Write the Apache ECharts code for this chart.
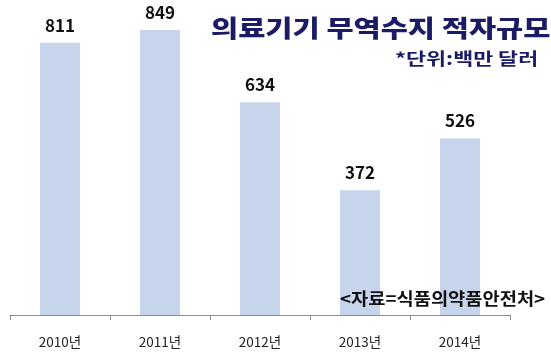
<!DOCTYPE html>
<html><head><meta charset="utf-8">
<script src="https://cdn.jsdelivr.net/npm/echarts@6/dist/echarts.min.js"></script>
<style>html,body{margin:0;padding:0;background:#fff}#c{width:551px;height:357px}</style>
</head><body><div id="c"></div>
<script>
const categories = ['2010년','2011년','2012년','2013년','2014년'];
const values = [811, 849, 634, 372, 526];
const titleText = '의료기기 무역수지 적자규모';
const unitText = '*단위:백만 달러';
const sourceText = '<자료=식품의약품안전처>';

const chart = echarts.init(document.getElementById('c'));
chart.setOption({
  animation: false,
  backgroundColor: '#ffffff',
  grid: {left: 10, right: 41, top: 13, bottom: 42},
  xAxis: {
    type: 'category', data: categories,
    axisLine: {lineStyle: {color: '#8c8c8c', width: 1}},
    axisTick: {show: true, length: 5, lineStyle: {color: '#8c8c8c'}},
    axisLabel: {color: '#222', fontSize: 13.5, fontFamily: 'Noto Sans CJK KR', margin: 20}
  },
  yAxis: {type: 'value', min: 0, max: 900, show: false, splitLine: {show: false}},
  series: [{
    type: 'bar', data: values, barWidth: '40%',
    itemStyle: {color: '#c6d5ec'},
    label: {show: true, position: 'top', distance: 9, color: '#111', fontSize: 17, fontWeight: 'bold', fontFamily: 'Noto Sans CJK KR'}
  }],
  graphic: [
    {type: 'text', z: 100, x: 211, y: 28, scaleX: 1.23, originX: 0, originY: 0,
     style: {text: titleText, verticalAlign: 'middle', align: 'left', fill: '#1c1c66', font: '900 24px "Noto Sans CJK KR"', shadowColor: '#a995d0', shadowBlur: 2, shadowOffsetX: 2, shadowOffsetY: 3}},
    {type: 'text', z: 100, x: 395, y: 59, scaleX: 1.28, originX: 0, originY: 0,
     style: {text: unitText, verticalAlign: 'middle', align: 'left', fill: '#1c1c66', font: 'bold 17px "Noto Sans CJK KR"'}},
    {type: 'text', z: 100, x: 340, y: 299, scaleX: 1.1, originX: 0, originY: 0,
     style: {text: sourceText, verticalAlign: 'middle', align: 'left', fill: '#111', font: 'bold 17px "Noto Sans CJK KR"', shadowColor: '#ffe000', shadowBlur: 6}}
  ]
});
</script></body></html>
